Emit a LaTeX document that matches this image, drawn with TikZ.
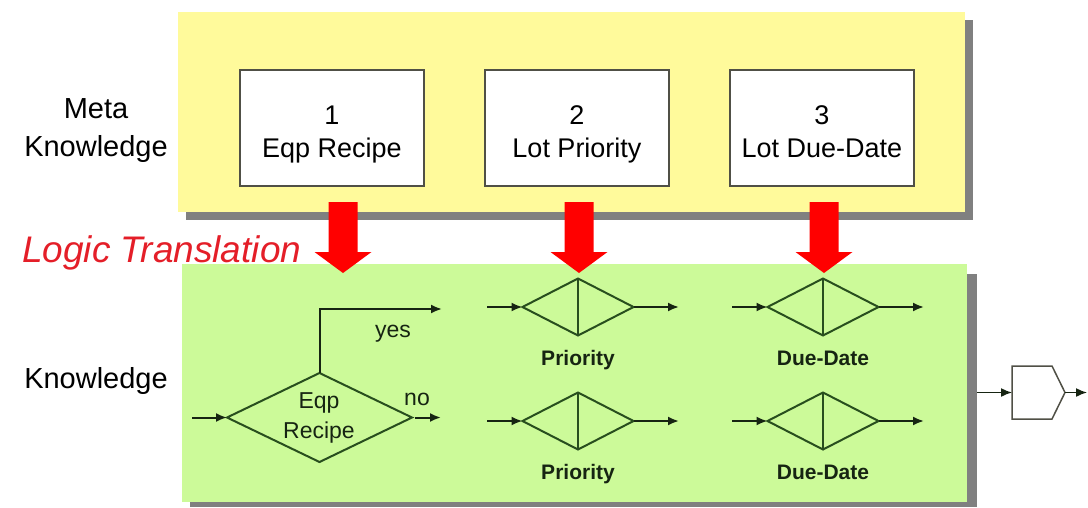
\documentclass[tikz,border=0pt]{standalone}
\usepackage{fontspec}
\setmainfont{Liberation Sans}
\usetikzlibrary{shapes.geometric,arrows.meta}

\definecolor{paleyellow}{RGB}{255,250,155}
\definecolor{palegreen}{RGB}{204,250,153}
\definecolor{shadowgray}{RGB}{128,128,128}
\definecolor{boxedge}{RGB}{80,80,70}
\definecolor{logicgreen}{RGB}{40,78,30}
\definecolor{labelink}{RGB}{22,36,18}
\definecolor{transred}{RGB}{228,30,40}
\definecolor{arrowred}{RGB}{255,0,0}

\begin{document}
\begin{tikzpicture}[x=1pt,y=-1pt,
  lbl/.style={font=\fontsize{29}{34}\selectfont, anchor=base, inner sep=0pt},
  boxtxt/.style={font=\fontsize{27}{32}\selectfont, anchor=base, inner sep=0pt},
  metabox/.style={draw=boxedge, line width=1.5pt, fill=white,
    minimum width=184pt, minimum height=116pt, inner sep=0pt, outer sep=0pt},
  decision/.style={diamond, draw=logicgreen, line width=2pt, inner sep=0pt, outer sep=0pt},
  splitline/.style={draw=logicgreen, line width=2pt},
  flow/.style={draw=labelink, line width=2pt, -{Latex[length=11pt,width=9pt]}},
  dtxt/.style={font=\fontsize{23}{28}\selectfont, text=labelink, anchor=base, inner sep=0pt},
  gtag/.style={font=\bfseries\fontsize{21}{25}\selectfont, text=labelink, anchor=base, inner sep=0pt},
  andgate/.style={minimum width=53pt, minimum height=53pt, inner sep=0pt, outer sep=0pt}
]
\useasboundingbox (0,0) rectangle (1088,507);

% panels with drop shadows
\fill[shadowgray] (186,20) rectangle (973,220);
\fill[paleyellow] (178,12) rectangle (965,212);
\fill[shadowgray] (190,274) rectangle (977,507);
\fill[palegreen] (182,264) rectangle (967,502);

% side labels
\node[lbl] (meta1) at (96,118) {Meta};
\node[lbl] (meta2) at (96,156) {Knowledge};
\node[lbl] (know) at (96,388) {Knowledge};
\node[font=\itshape\fontsize{37}{44}\selectfont, text=transred, anchor=base west, inner sep=0pt]
  (logic) at (22,262) {Logic Translation};

% meta knowledge boxes
\node[metabox] (k1) at (332,128) {};
\node[boxtxt] (k1n) at (332,124) {1};
\node[boxtxt] (k1t) at (332,157) {Eqp Recipe};
\node[metabox] (k2) at (577,128) {};
\node[boxtxt] (k2n) at (577,124) {2};
\node[boxtxt] (k2t) at (577,157) {Lot Priority};
\node[metabox] (k3) at (822,128) {};
\node[boxtxt] (k3n) at (822,124) {3};
\node[boxtxt] (k3t) at (822,157) {Lot Due-Date};

% translation arrows
\foreach \c in {343,579,824}
  \fill[arrowred] ({\c-14.5},202) -- ({\c+14.5},202) -- ({\c+14.5},252) -- ({\c+28.5},252)
    -- (\c,273) -- ({\c-28.5},252) -- ({\c-14.5},252) -- cycle;

% equipment recipe decision
\node[decision, minimum width=185pt, minimum height=89pt] (eqp) at (319.5,417.5) {};
\node[dtxt] (eqpa) at (319,408) {Eqp};
\node[dtxt] (eqpb) at (319,438) {Recipe};
\coordinate (eqpin) at (192,417.5);
\coordinate (noout) at (441,417.5);
\coordinate (yesout) at (442,309);
\draw[flow] (eqpin) -- (eqp.west);
\draw[flow, shorten <=3pt] (eqp.east) -- (noout);
\draw[flow] (eqp.north) |- (yesout);
\node[dtxt] (yes) at (393,337) {yes};
\node[dtxt] (no) at (417,405) {no};

% priority and due-date split decisions
\foreach \nm/\cx/\cy/\inx/\outx/\tag in
  {p1/578/307/487/679/Priority, p2/578/421/487/679/Priority,
   d1/823/307/732/924/Due-Date, d2/823/421/732/924/Due-Date}{
  \node[decision, minimum width=111pt, minimum height=57pt] (\nm) at (\cx,\cy) {};
  \draw[splitline] (\nm.north) -- (\nm.south);
  \coordinate (\nm in) at (\inx,\cy);
  \coordinate (\nm out) at (\outx,\cy);
  \draw[flow] (\nm in) -- (\nm.west);
  \draw[flow] (\nm.east) -- (\nm out);
  \node[gtag] (\nm tag) at (\cx,{\cy+58}) {\tag};
}

% combining gate
\node[andgate] (gate) at (1038.5,392.5) {};
\draw[draw=boxedge, line width=1.5pt, fill=white]
  (gate.north west) -- ([xshift=-13pt]gate.north east) -- (gate.east)
  -- ([xshift=-13pt]gate.south east) -- (gate.south west) -- cycle;
\coordinate (gatein) at (977,392.5);
\coordinate (gateout) at (1087,392.5);
\draw[flow, line width=1.5pt] (gatein) -- (gate.west);
\draw[flow, line width=1.5pt] (gate.east) -- (gateout);
\end{tikzpicture}
\end{document}
